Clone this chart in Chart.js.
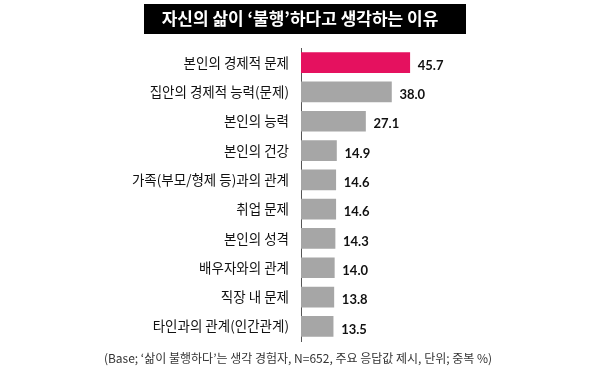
<!DOCTYPE html>
<html>
<head>
<meta charset="utf-8">
<script src="https://cdn.jsdelivr.net/npm/chart.js@4/dist/chart.umd.min.js"></script>
<style>
  html, body { margin: 0; padding: 0; background: #fff; }
  #wrap { width: 600px; height: 378px; position: relative; }
</style>
</head>
<body>
<div id="wrap"><canvas id="chart"></canvas></div>
<script>
const chartTitle = '자신의 삶이 ‘불행’하다고 생각하는 이유';
const footNote = '(Base; ‘삶이 불행하다’는 생각 경험자, N=652, 주요 응답값 제시, 단위; 중복 %)';
const reasons = [
    '본인의 경제적 문제',
    '집안의 경제적 능력(문제)',
    '본인의 능력',
    '본인의 건강',
    '가족(부모/형제 등)과의 관계',
    '취업 문제',
    '본인의 성격',
    '배우자와의 관계',
    '직장 내 문제',
    '타인과의 관계(인간관계)'
];
const percents = [45.7, 38.0, 27.1, 14.9, 14.6, 14.6, 14.3, 14.0, 13.8, 13.5];

const korFont = "'Noto Sans CJK KR', 'Noto Sans', sans-serif";

// title bar + footnote
const framePlugin = {
    id: 'frame',
    beforeDraw(chart) {
        const ctx = chart.ctx;
        ctx.save();
        ctx.fillStyle = '#000';
        ctx.fillRect(144, 4, 322, 30);
        ctx.fillStyle = '#fff';
        ctx.font = 'bold 17px ' + korFont;
        ctx.textAlign = 'center';
        ctx.textBaseline = 'middle';
        ctx.fillText(chartTitle, 300, 19);
        ctx.fillStyle = '#333';
        ctx.font = '12px ' + korFont;
        ctx.fillText(footNote, 298, 358);
        ctx.restore();
    }
};

// numbers at bar ends
const valuePlugin = {
    id: 'values',
    afterDatasetsDraw(chart) {
        const ctx = chart.ctx;
        const meta = chart.getDatasetMeta(0);
        ctx.save();
        ctx.fillStyle = '#111';
        ctx.font = 'bold 13px Lato, sans-serif';
        ctx.textAlign = 'left';
        ctx.textBaseline = 'middle';
        meta.data.forEach((bar, i) => {
            ctx.fillText(percents[i].toFixed(1), bar.x + 8, bar.y + 3);
        });
        ctx.restore();
    }
};

var ctx1 = document.getElementById('chart').getContext('2d');
var myChart1 = new Chart(ctx1, {
    type: 'bar',
    data: {
        labels: reasons,
        datasets: [{
            data: percents,
            backgroundColor: percents.map((v, i) => i === 0 ? '#E5115F' : '#A6A6A6'),
            borderWidth: 0,
            barThickness: 20
        }]
    },
    options: {
        indexAxis: 'y',
        responsive: true,
        maintainAspectRatio: false,
        animation: false,
        layout: {
            padding: { left: 0, right: 180, top: 48, bottom: 37 }
        },
        scales: {
            x: {
                display: false,
                min: 0,
                max: 50
            },
            y: {
                afterFit: scale => { scale.width = 301; },
                grid: { display: true, color: 'rgba(0,0,0,0)', drawTicks: false },
                border: { display: true, color: '#555', width: 1 },
                ticks: {
                    padding: 12,
                    color: '#111',
                    font: { family: korFont, size: 13.5 }
                }
            }
        },
        plugins: {
            legend: { display: false },
            tooltip: { enabled: false }
        }
    },
    plugins: [framePlugin, valuePlugin]
});
</script>
</body>
</html>
